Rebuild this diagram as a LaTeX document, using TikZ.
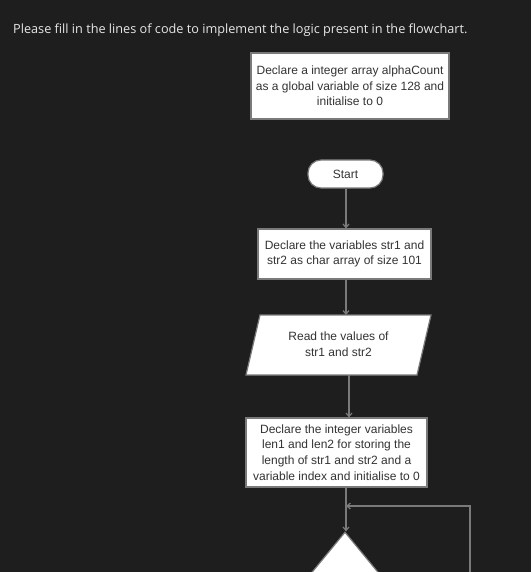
\documentclass[tikz,border=0pt]{standalone}
\usepackage{fontspec}
\setmainfont{Liberation Sans}
\newfontfamily\titlefont{Open Sans}
\usetikzlibrary{shapes.geometric,arrows.meta}
\definecolor{bg}{HTML}{1E1E1E}
\definecolor{lineg}{HTML}{7A7A7A}
\definecolor{txt}{HTML}{333333}
\definecolor{ttl}{HTML}{E6E6E6}
\tikzset{
  box/.style={draw=lineg, fill=white, line width=1.2pt, text=txt, align=center, inner sep=0pt,
    font=\fontsize{12}{15.7}\selectfont},
  term/.style={box, rounded corners=13pt},
  plain/.style={text=txt, align=center, inner sep=0pt, font=\fontsize{12}{15.7}\selectfont},
  arr/.style={draw=lineg, line width=1.2pt, -{Straight Barb[length=3.5pt,width=6pt]}},
}
\begin{document}
\begin{tikzpicture}[x=1pt,y=-1pt]
\fill[bg] (0,0) rectangle (531,572);
\useasboundingbox (0,0) rectangle (531,572);
\clip (0,0) rectangle (531,572);
\node[anchor=west, text=ttl, inner sep=0pt, font=\titlefont\fontsize{12.7}{16}\selectfont] (title) at (13,30) {Please fill in the lines of code to implement the logic present in the flowchart.};
\coordinate (axis) at (346,0);
\node[box, minimum width=198pt, minimum height=66pt] (glob) at (350,86) {Declare a integer array alphaCount\\as a global variable of size 128 and\\initialise to 0};
\node[term, minimum width=75pt, minimum height=28pt] (start) at (345.5,174) {Start};
\node[box, minimum width=173pt, minimum height=50pt] (decl) at (344.5,254) {Declare the variables str1 and\\str2 as char array of size 101};
\coordinate (pTL) at (260,315);
\coordinate (pTR) at (431,315);
\coordinate (pBR) at (417,375);
\coordinate (pBL) at (246,375);
\draw[draw=lineg, fill=white, line width=1.2pt] (pTL) -- (pTR) -- (pBR) -- (pBL) -- cycle;
\node[plain] (read) at (338.5,344) {Read the values of\\str1 and str2};
\node[box, minimum width=181pt, minimum height=69pt] (lens) at (336.5,452.5) {Declare the integer variables\\len1 and len2 for storing the\\length of str1 and str2 and a\\variable index and initialise to 0};
\node[diamond, draw=lineg, fill=white, line width=1.2pt, minimum width=99pt, minimum height=120pt, inner sep=0pt] (cond) at (345,592) {};
\coordinate (join) at (346,506);
\coordinate (loopin) at (470,590);
\draw[arr] (start.south -| axis) -- (decl.north -| axis);
\draw[arr] (decl.south -| axis) -- (pTL -| axis);
\draw[arr] (pBL -| 349,0) -- (lens.north -| 349,0);
\draw[arr] (lens.south -| axis) -- (cond.north -| axis);
\draw[arr] (loopin) |- (join);
\end{tikzpicture}
\end{document}
